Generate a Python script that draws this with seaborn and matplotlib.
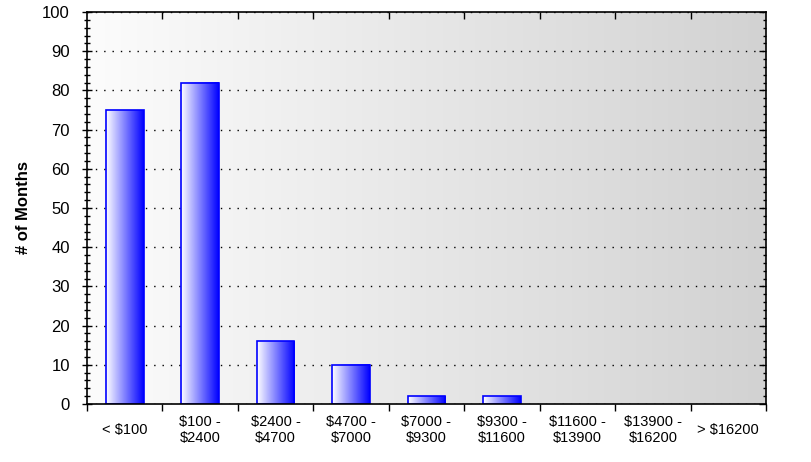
import numpy as np
import pandas as pd
import matplotlib
matplotlib.use("Agg")
import matplotlib.pyplot as plt
import seaborn as sns
from matplotlib.colors import LinearSegmentedColormap
from matplotlib.ticker import MultipleLocator, FixedLocator

# data
categories = ["< $100", "$100 -\n$2400", "$2400 -\n$4700", "$4700 -\n$7000",
              "$7000 -\n$9300", "$9300 -\n$11600", "$11600 -\n$13900",
              "$13900 -\n$16200", "> $16200"]
months = [75, 82, 16, 10, 2, 2, 0, 0, 0]

df = pd.DataFrame({"range": categories, "months": months})

sns.set_style("white")
plt.rcParams['font.family'] = ['Liberation Sans', 'DejaVu Sans']
plt.rcParams['text.color'] = 'black'
plt.rcParams['axes.labelcolor'] = 'black'
plt.rcParams['xtick.color'] = 'black'
plt.rcParams['ytick.color'] = 'black'

fig = plt.figure(figsize=(8.12, 4.62), dpi=100)
ax = fig.add_axes([87 / 812, 58 / 462, 679 / 812, 392 / 462])

sns.barplot(data=df, x="range", y="months", width=0.5, ax=ax,
            color="#0000ff", edgecolor="#0000ff", linewidth=1.2, zorder=3)

# background gradient (white -> grey, left to right)
bg_cmap = LinearSegmentedColormap.from_list("bg", ["#fcfcfc", "#d2d2d2"])
grad = np.linspace(0, 1, 256).reshape(1, -1)
ax.imshow(grad, cmap=bg_cmap, aspect="auto", extent=[0, 1, 0, 1],
          transform=ax.transAxes, zorder=0)

# gradient fill for each bar
bar_cmap = LinearSegmentedColormap.from_list("bar", ["#ffffff", "#0000ff"])
for p in ax.patches:
    h = p.get_height()
    if h <= 0:
        p.set_visible(False)
        continue
    p.set_facecolor("none")
    x0 = p.get_x()
    w = p.get_width()
    ax.imshow(grad, cmap=bar_cmap, aspect="auto",
              extent=[x0, x0 + w, 0, h], zorder=2)
ax.set_xlim(-0.5, len(categories) - 0.5)
ax.set_ylim(0, 100)

# dotted grid
ax.yaxis.set_major_locator(MultipleLocator(10))
ax.yaxis.set_minor_locator(MultipleLocator(2))
ax.yaxis.grid(True, which="major", color="black", linestyle=(0, (1, 5)), linewidth=1)
ax.set_axisbelow(True)
for gl in ax.get_ygridlines():
    gl.set_zorder(1)

for s in ax.spines.values():
    s.set_visible(True)
    s.set_color("black")
    s.set_linewidth(1.2)
    s.set_zorder(5)

# y ticks on the left cross the spine
ax.tick_params(axis="y", which="major", direction="inout", length=6.5, width=1,
               labelsize=12, left=True, right=False, pad=9)
ax.tick_params(axis="y", which="minor", direction="inout", length=4.3, width=1,
               left=True, right=False)
ax.set_yticks(np.arange(0, 101, 10))

# x: labels at centres, ticks at boundaries
ax.xaxis.set_minor_locator(FixedLocator(np.arange(-0.5, len(categories), 1)))
ax.tick_params(axis="x", which="major", length=0, pad=19, labelsize=10.5)
ax.tick_params(axis="x", which="minor", direction="out", length=5, width=1,
               bottom=True)
for lab in ax.get_xticklabels():
    lab.set_va("center")
    lab.set_linespacing(1.2)

# top and right ticks pointing inward
top = ax.secondary_xaxis("top")
top.set_xticks(np.arange(0.5, len(categories) - 1, 1))
top.tick_params(direction="in", length=5, width=1, labeltop=False)
top.spines["top"].set_visible(False)
right = ax.secondary_yaxis("right")
right.yaxis.set_major_locator(MultipleLocator(10))
right.yaxis.set_minor_locator(MultipleLocator(2))
right.tick_params(which="major", direction="in", length=5, width=1, labelright=False)
right.tick_params(which="minor", direction="in", length=2.5, width=1)
right.spines["right"].set_visible(False)

ax.set_xlabel("")
ax.set_ylabel("# of Months", fontsize=12, fontweight="bold")
ax.yaxis.set_label_coords(-0.082, 0.5)

fig.savefig("out.png", dpi=100)
